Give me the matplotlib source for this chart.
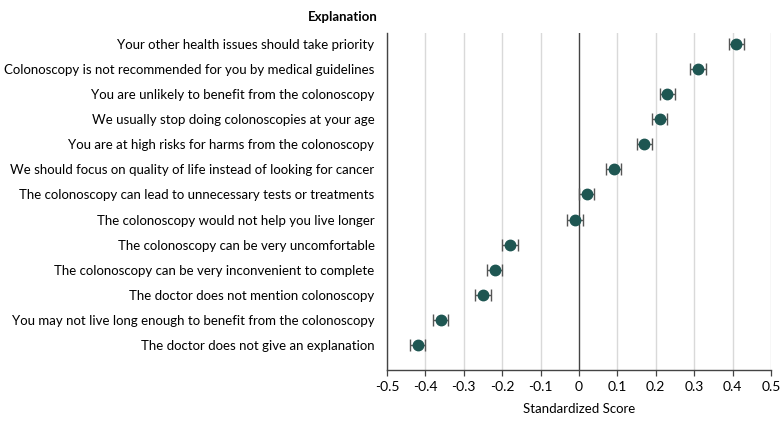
import matplotlib
matplotlib.use("Agg")
import matplotlib.pyplot as plt

labels = [
    "Your other health issues should take priority",
    "Colonoscopy is not recommended for you by medical guidelines",
    "You are unlikely to benefit from the colonoscopy",
    "We usually stop doing colonoscopies at your age",
    "You are at high risks for harms from the colonoscopy",
    "We should focus on quality of life instead of looking for cancer",
    "The colonoscopy can lead to unnecessary tests or treatments",
    "The colonoscopy would not help you live longer",
    "The colonoscopy can be very uncomfortable",
    "The colonoscopy can be very inconvenient to complete",
    "The doctor does not mention colonoscopy",
    "You may not live long enough to benefit from the colonoscopy",
    "The doctor does not give an explanation",
]
scores = [0.41, 0.31, 0.23, 0.21, 0.17, 0.09, 0.02, -0.01, -0.18, -0.22, -0.25, -0.36, -0.42]
ci_low = [0.39, 0.29, 0.21, 0.19, 0.15, 0.07, 0.00, -0.03, -0.20, -0.24, -0.27, -0.38, -0.44]
ci_high = [0.43, 0.33, 0.25, 0.23, 0.19, 0.11, 0.04, 0.01, -0.16, -0.20, -0.23, -0.34, -0.40]
xticks = [-0.5, -0.4, -0.3, -0.2, -0.1, 0, 0.1, 0.2, 0.3, 0.4, 0.5]
xticklabels = ["-0.5", "-0.4", "-0.3", "-0.2", "-0.1", "0", "0.1", "0.2", "0.3", "0.4", "0.5"]

plt.rcParams['font.family'] = ['Lato', 'DejaVu Sans']

fig = plt.figure(figsize=(7.83, 4.25), dpi=100)
ax = fig.add_axes([387/783, 1 - 370/425, (771-387)/783, (370-33)/425])

ypos = list(range(len(labels)))
err_lo = [s - l for s, l in zip(scores, ci_low)]
err_hi = [h - s for s, h in zip(scores, ci_high)]

ax.errorbar(scores, ypos, xerr=[err_lo, err_hi], fmt='none', ecolor='#555555',
            elinewidth=1.0, capsize=4, capthick=1.0, zorder=3)
ax.plot(scores, ypos, 'o', color='#1e5652', markersize=7.5, zorder=4, linestyle='none')

for x in xticks:
    if x == 0:
        ax.axvline(0, color='#444444', linewidth=1.0, zorder=2)
    else:
        ax.axvline(x, color='#d9d9d9', linewidth=1.0, zorder=1)

ax.set_xlim(-0.5, 0.5)
ax.set_ylim(13.0, -0.44)
ax.set_xticks(xticks)
ax.set_xticklabels(xticklabels, fontsize=10)
ax.set_yticks(ypos)
ax.set_yticklabels(labels, fontsize=9.5)
ax.tick_params(axis='y', length=0, pad=9)
ax.tick_params(axis='x', length=4.5, width=0.9, color='#444444', pad=3.5)
for s in ['top', 'right']:
    ax.spines[s].set_visible(False)
for s in ['left', 'bottom']:
    ax.spines[s].set_color('#444444')
    ax.spines[s].set_linewidth(1.0)
ax.set_xlabel("Standardized Score", fontsize=9.5, labelpad=7)

fig.text(378/783, 1 - 17/425, "Explanation", ha='right', va='center',
         fontsize=9.5, fontweight='bold')

fig.savefig("out.png", dpi=100)
